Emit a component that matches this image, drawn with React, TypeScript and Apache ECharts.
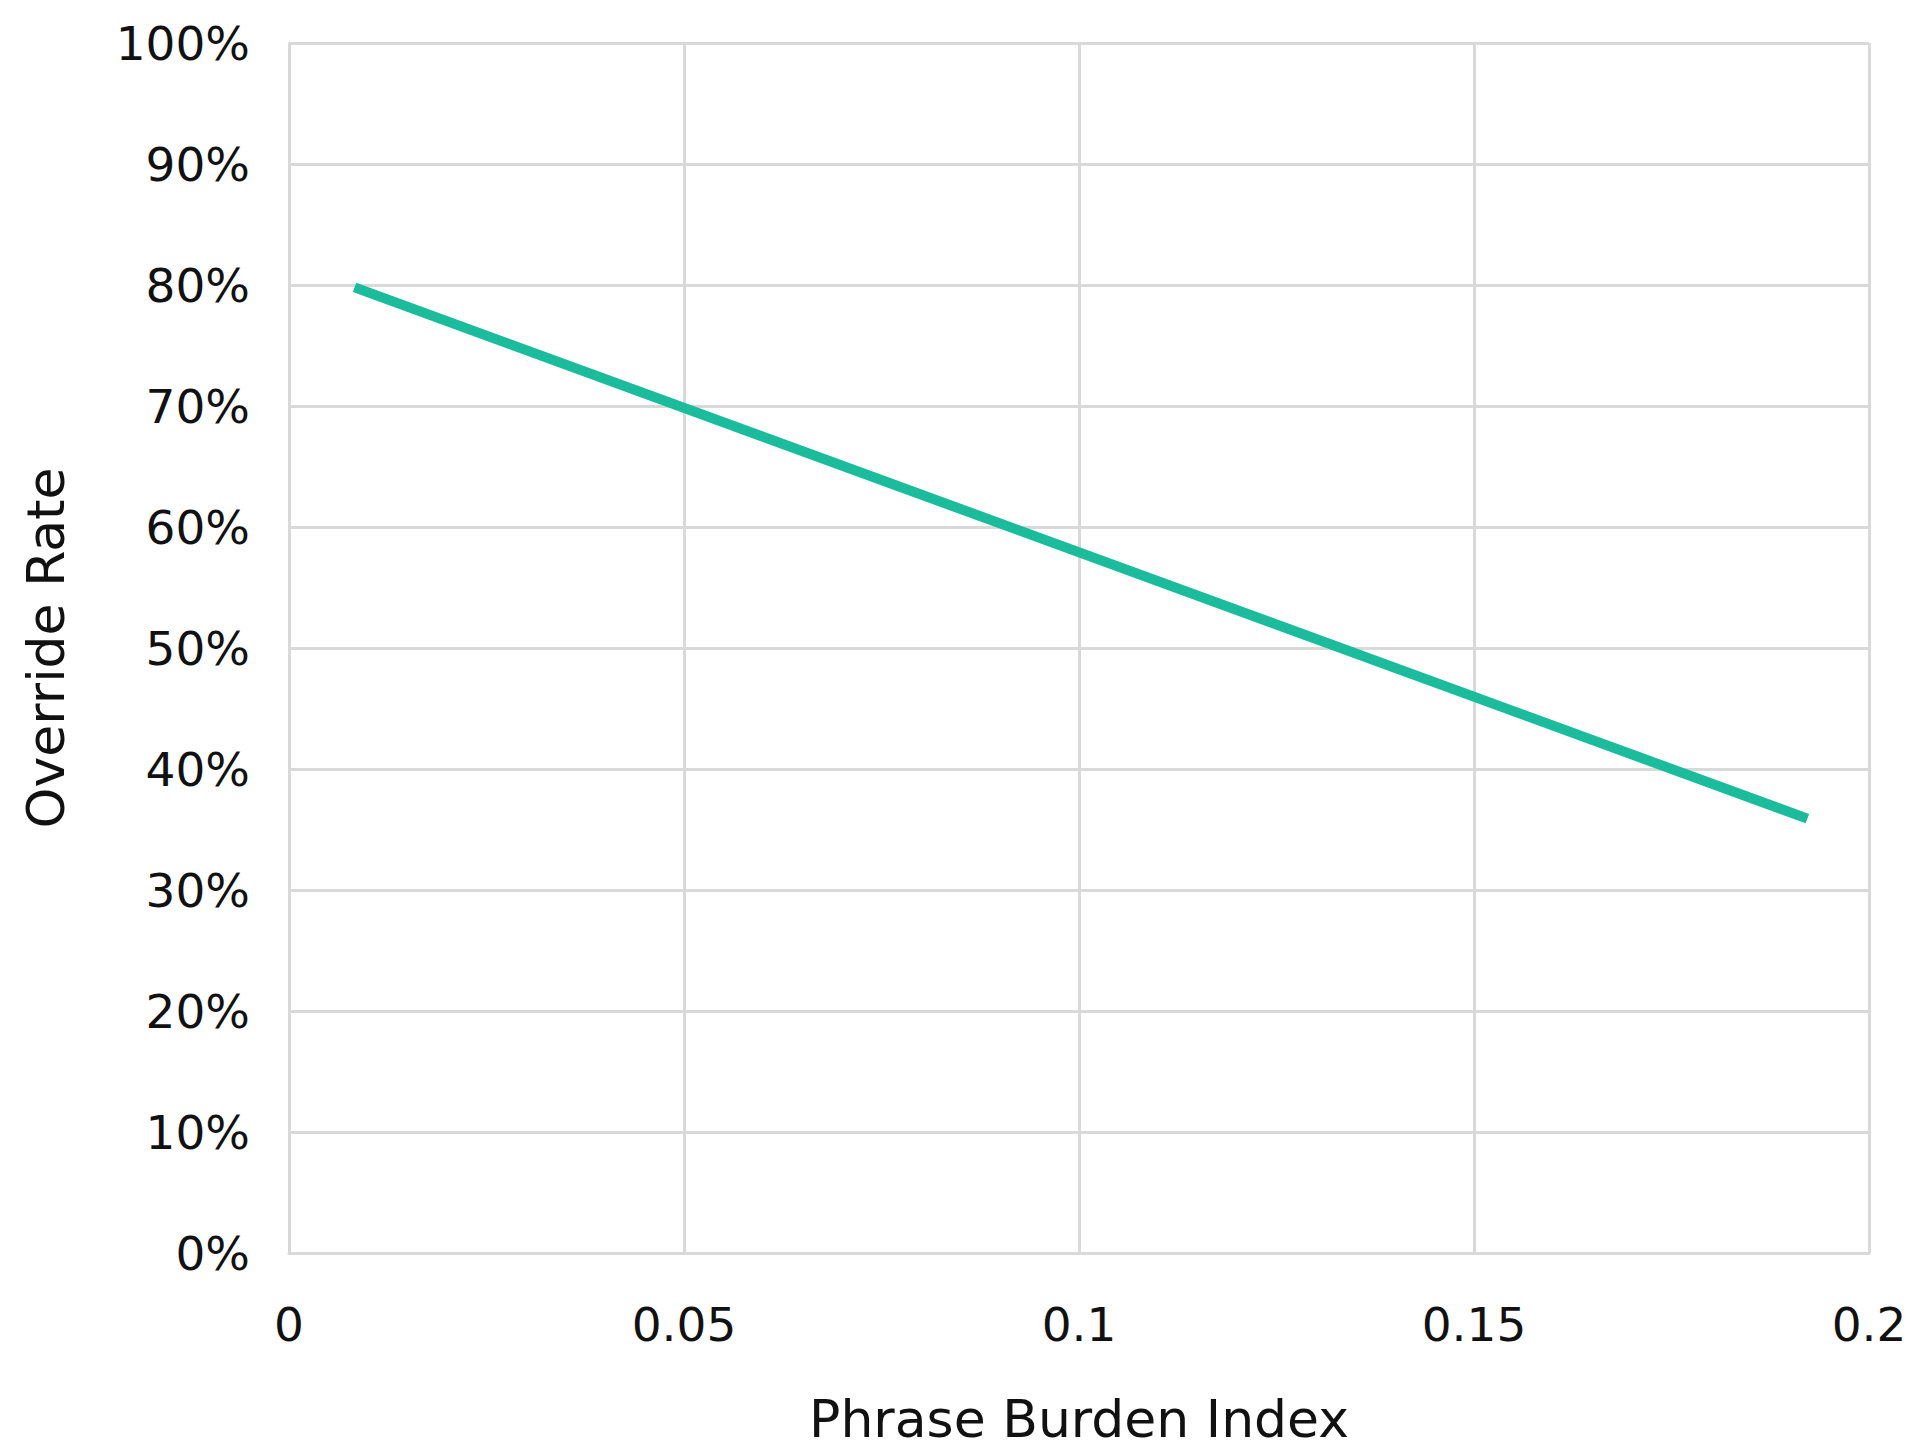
import React, { useEffect, useRef } from 'react';
import * as echarts from 'echarts';

// phrase burden index (x) vs override rate in % (y)
const burdenIndex = [0.0083, 0.1922];
const overrideRate = [79.8, 35.9];

const xTicks = { min: 0, max: 0.2, interval: 0.05 };
const yTicks = { min: 0, max: 100, interval: 10 };

const FONT = 'DejaVu Sans';
const LABEL_SIZE = 47;
const NAME_SIZE = 52;
const TEXT_COLOR = '#111';
const GRID_COLOR = '#d9d9d9';

export default function App() {
  const chartRef = useRef<HTMLDivElement>(null);

  useEffect(() => {
    document.body.style.margin = '0';
    const chart = echarts.init(chartRef.current, null, { renderer: 'svg' });

    const option = {
      animation: false,
      backgroundColor: '#ffffff',
      textStyle: { fontFamily: FONT },
      grid: { left: 289, right: 50, top: 43, bottom: 196 },
      xAxis: {
        type: 'value',
        min: xTicks.min,
        max: xTicks.max,
        interval: xTicks.interval,
        name: 'Phrase Burden Index',
        nameLocation: 'middle',
        nameGap: 140,
        nameTextStyle: { fontFamily: FONT, fontSize: NAME_SIZE, color: TEXT_COLOR },
        axisLine: { show: true, lineStyle: { color: GRID_COLOR, width: 3 } },
        axisTick: { show: false },
        axisLabel: { fontFamily: FONT, fontSize: LABEL_SIZE, color: TEXT_COLOR, margin: 48 },
        splitLine: { show: true, lineStyle: { color: GRID_COLOR, width: 3 } }
      },
      yAxis: {
        type: 'value',
        min: yTicks.min,
        max: yTicks.max,
        interval: yTicks.interval,
        name: 'Override Rate',
        nameLocation: 'middle',
        nameGap: 217,
        nameRotate: 90,
        nameTextStyle: { fontFamily: FONT, fontSize: NAME_SIZE, color: TEXT_COLOR },
        axisLine: { show: true, lineStyle: { color: GRID_COLOR, width: 3 } },
        axisTick: { show: false },
        axisLabel: { fontFamily: FONT, fontSize: LABEL_SIZE, color: TEXT_COLOR, margin: 39, formatter: '{value}%' },
        splitLine: { show: true, lineStyle: { color: GRID_COLOR, width: 3 } }
      },
      series: [
        {
          type: 'line',
          data: burdenIndex.map((x, i) => [x, overrideRate[i]]),
          symbol: 'none',
          lineStyle: { color: '#1abc9c', width: 10, cap: 'butt' }
        }
      ]
    };

    chart.setOption(option);
    return () => chart.dispose();
  }, []);

  return <div ref={chartRef} style={{ width: 1919, height: 1450 }} />;
}
